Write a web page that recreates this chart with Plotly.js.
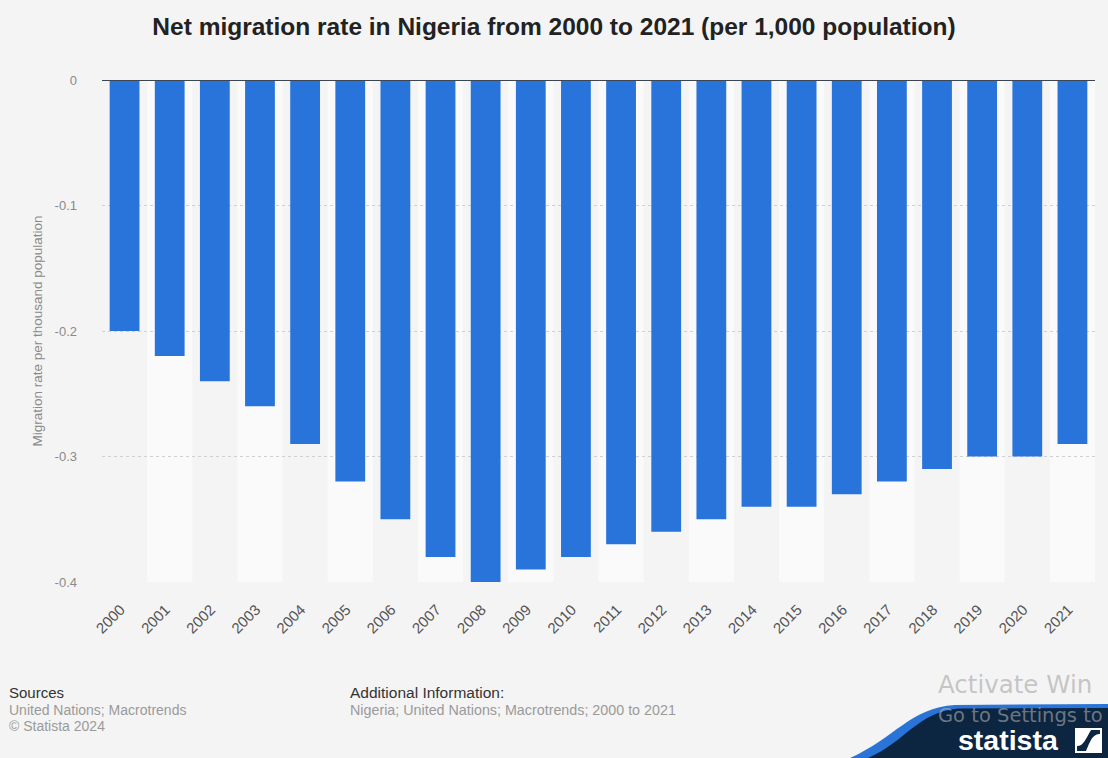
<!DOCTYPE html>
<html>
<head>
<meta charset="utf-8">
<script src="https://cdn.plot.ly/plotly-3.0.1.min.js"></script>
<style>
html,body{margin:0;padding:0;background:#f4f4f4;}
#chart{width:1108px;height:758px;}
</style>
</head>
<body>
<div id="chart"></div>
<script>
const years = ["2000","2001","2002","2003","2004","2005","2006","2007","2008","2009","2010","2011","2012","2013","2014","2015","2016","2017","2018","2019","2020","2021"];
const rates = [-0.2,-0.22,-0.24,-0.26,-0.29,-0.32,-0.35,-0.38,-0.4,-0.39,-0.38,-0.37,-0.36,-0.35,-0.34,-0.34,-0.33,-0.32,-0.31,-0.3,-0.3,-0.29];
const yTicks = [0,-0.1,-0.2,-0.3,-0.4];
const yTickText = ["0","-0.1","-0.2","-0.3","-0.4"];

const W = 1108, H = 758;
const M = {l:102, r:13, t:80, b:176};
const pw = W - M.l - M.r, ph = H - M.t - M.b;
const px = x => (x - M.l) / pw;
const py = y => (H - M.b - y) / ph;

const shapes = [];
// alternating column stripes
years.forEach((y, i) => {
  if (i % 2 === 1) {
    shapes.push({type:'rect', xref:'x', yref:'paper', x0:i-0.5, x1:i+0.5, y0:0, y1:1,
      fillcolor:'#fafafa', line:{width:0}, layer:'below'});
  }
});
// zero line
shapes.push({type:'line', xref:'paper', yref:'y', x0:0, x1:1, y0:0, y1:0,
  line:{color:'#3c4652', width:2}, layer:'above'});

// statista logo band
function P(x,y){return px(x).toFixed(4)+','+py(y).toFixed(4);}
const bluePath = 'M'+P(850,758)+' C'+P(895,738)+' '+P(910,708)+' '+P(955,705)+' L'+P(1108,704)+' L'+P(1108,758)+' Z';
const navyPath = 'M'+P(868,758)+' C'+P(905,742)+' '+P(918,712)+' '+P(958,708.5)+' L'+P(1108,708)+' L'+P(1108,758)+' Z';
shapes.push({type:'path', xref:'paper', yref:'paper', path:bluePath, fillcolor:'#2a74d8', line:{width:0}});
shapes.push({type:'path', xref:'paper', yref:'paper', path:navyPath, fillcolor:'#0c2541', line:{width:0}});
// logo icon
shapes.push({type:'rect', xref:'paper', yref:'paper', x0:px(1075), x1:px(1102), y0:py(753), y1:py(728),
  fillcolor:'#ffffff', line:{width:0}});
shapes.push({type:'path', xref:'paper', yref:'paper',
  path:'M'+P(1077,751)+' L'+P(1086,751)+' C'+P(1090,742)+' '+P(1092,734)+' '+P(1100,734)+' L'+P(1100,730)+' L'+P(1091,730)+' C'+P(1086,738)+' '+P(1084,746)+' '+P(1077,746)+' Z',
  fillcolor:'#0c2541', line:{width:0}});

const FF = 'Liberation Sans, Arial, sans-serif';
function note(text, x, y, size, color, family) {
  return {text:text, x:px(x), y:py(y), xref:'paper', yref:'paper', xanchor:'left', yanchor:'middle',
    showarrow:false, borderpad:0, font:{family:family || FF, size:size, color:color}};
}
const annotations = [
  note('Sources', 8, 692, 15, '#333333'),
  note('United Nations; Macrotrends', 8, 710, 14, '#9a9a9a'),
  note('© Statista 2024', 8, 726, 14, '#9a9a9a'),
  note('Additional Information:', 349, 692, 15.5, '#333333'),
  note('Nigeria; United Nations; Macrotrends; 2000 to 2021', 349, 710, 14.3, '#9a9a9a'),
  note('Activate Win', 937, 684, 24.5, 'rgba(165,165,165,0.6)', 'DejaVu Sans, sans-serif'),
  note('Go to Settings to', 937, 715, 19.5, 'rgba(175,175,175,0.6)', 'DejaVu Sans, sans-serif'),
  note('<b>statista</b>', 957, 740, 28.5, '#ffffff', 'Liberation Sans Narrow, Liberation Sans, Arial, sans-serif')
];

const data = [{
  type:'bar', x:years, y:rates,
  marker:{color:'#2874db', line:{width:0}},
  width:0.66, hoverinfo:'x+y'
}];

const layout = {
  width:W, height:H,
  paper_bgcolor:'#f4f4f4', plot_bgcolor:'#f4f4f4',
  margin:M,
  title:{text:'<b>Net migration rate in Nigeria from 2000 to 2021 (per 1,000 population)</b>',
    x:0.5, xref:'container', xanchor:'center', y:1 - 26/H, yref:'container', yanchor:'middle',
    font:{family:FF, size:24.5, color:'#222222'}},
  showlegend:false,
  bargap:0.34,
  xaxis:{type:'category', tickangle:-45, showgrid:false, zeroline:false, showline:false, ticks:'',
    tickfont:{family:FF, size:15, color:'#555555'},
    ticklabelstandoff:15, ticklabelshift:-4, range:[-0.5, years.length-0.5], fixedrange:true, automargin:false},
  yaxis:{range:[-0.4,0], tickvals:yTicks, ticktext:yTickText, showgrid:true, gridcolor:'#d0d0d0', griddash:'dot', gridwidth:1,
    zeroline:false, showline:false, ticks:'', ticklabelstandoff:24, automargin:false,
    tickfont:{family:FF, size:13, color:'#8a8a8a'},
    title:{text:'Migration rate per thousand population', standoff:8,
      font:{family:FF, size:13.5, color:'#8a8a8a'}},
    fixedrange:true},
  shapes:shapes,
  annotations:annotations
};

Plotly.newPlot('chart', data, layout, {displayModeBar:false, staticPlot:true});
</script>
</body>
</html>
